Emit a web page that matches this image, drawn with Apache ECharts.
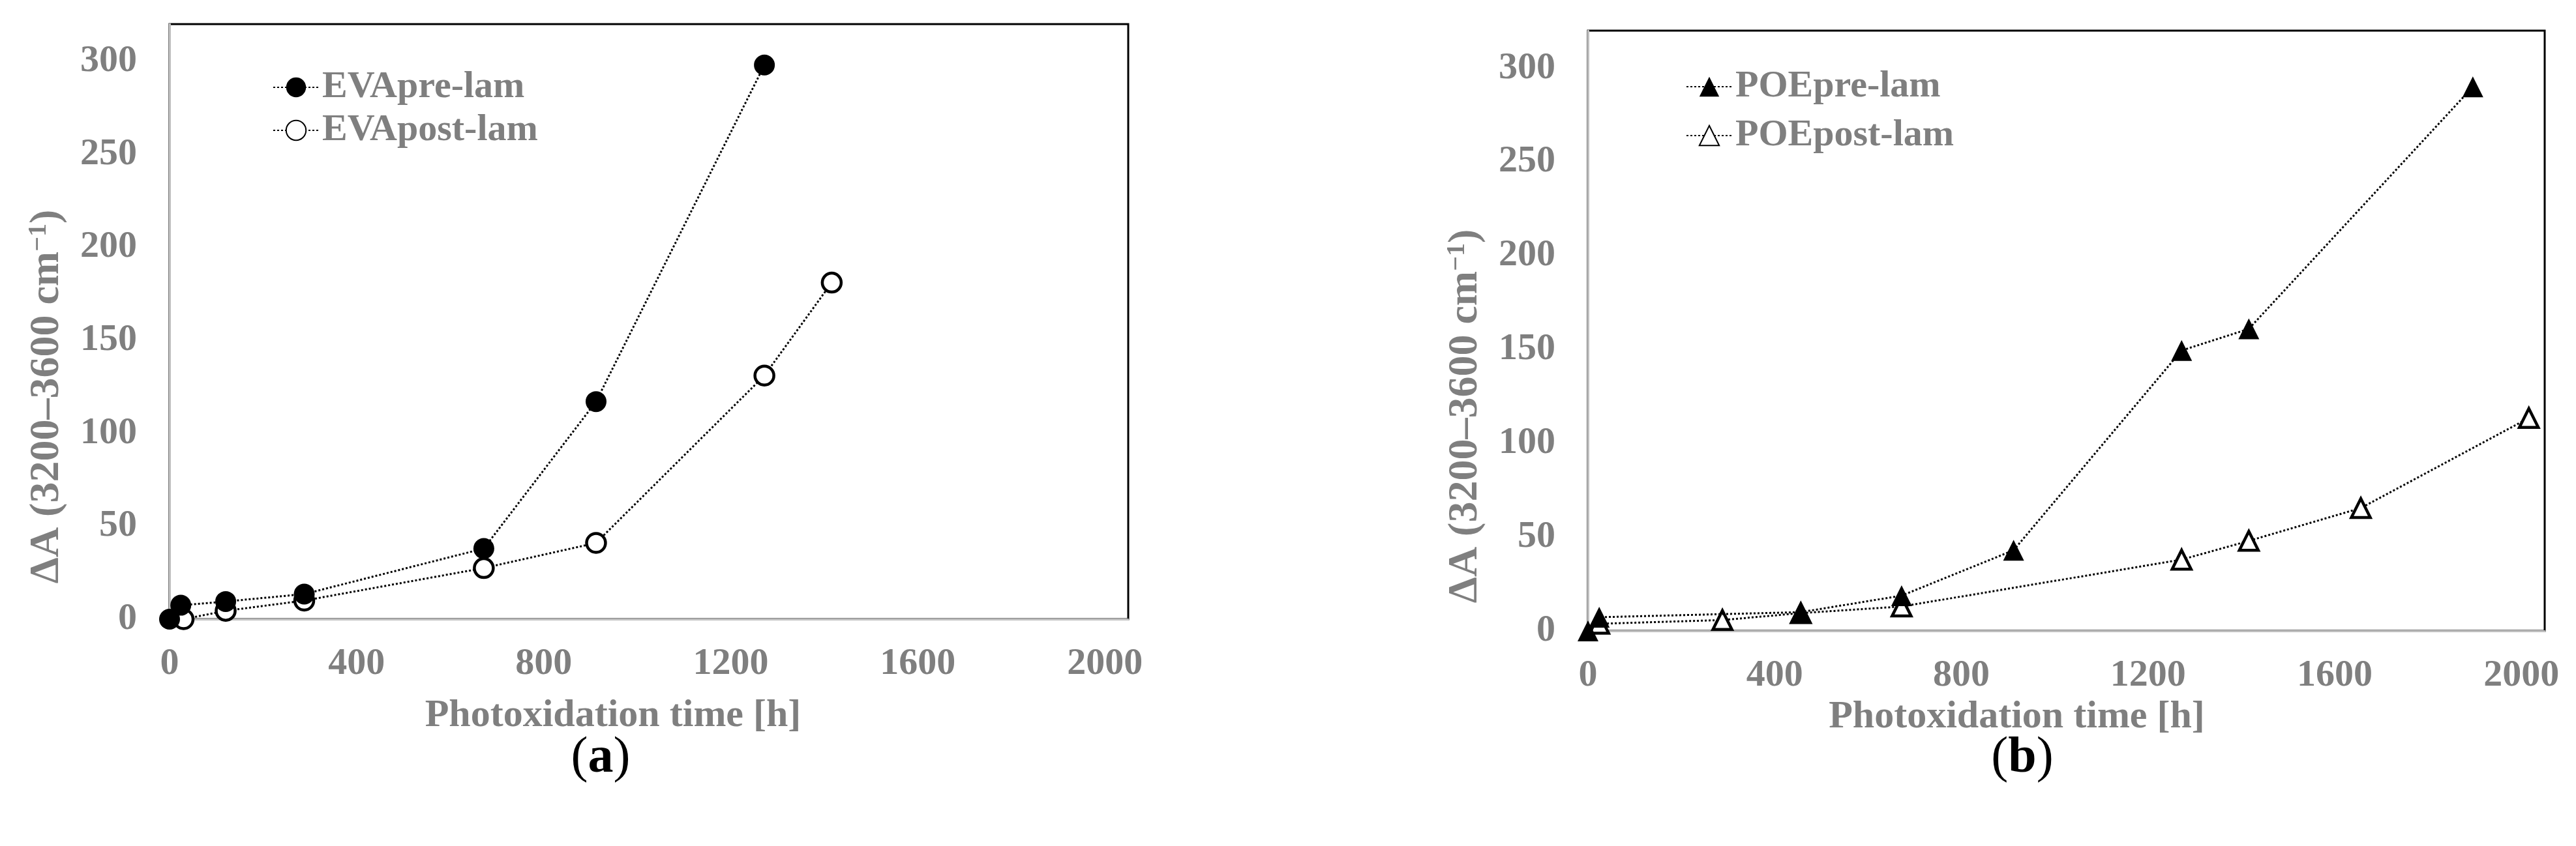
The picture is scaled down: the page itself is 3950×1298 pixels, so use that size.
<!DOCTYPE html>
<html>
<head>
<meta charset="utf-8">
<script src="https://cdn.jsdelivr.net/npm/echarts@6/dist/echarts.min.js"></script>
<style>
  html, body { margin: 0; padding: 0; background: #fff; }
  #chart { width: 3950px; height: 1298px; }
</style>
</head>
<body>
<div id="chart"></div>
<script>
// photoxidation time [h] and delta A values
const evaPreTime = [0, 24, 120, 288, 672, 912, 1272];
const evaPreVal = [0, 7.5, 9.5, 13.5, 38, 117, 298];
const evaPostTime = [30, 120, 288, 672, 912, 1272, 1416];
const evaPostVal = [0, 4.5, 10, 27.5, 41, 131, 181];

const poePreTime = [0, 24, 456, 672, 912, 1272, 1416, 1896];
const poePreVal = [0, 7.3, 10, 18.8, 43, 149.5, 161, 290];
const poePostTime = [24, 288, 456, 672, 1272, 1416, 1656, 2016];
const poePostVal = [3.8, 5.8, 9.5, 13, 38, 48, 65.5, 113.5];

const xTicks = [0, 400, 800, 1200, 1600, 2000];
const yTicks = [0, 50, 100, 150, 200, 250, 300];

const grey = "#7f7f7f";
const serif = "Liberation Serif";

function pairs(xs, ys) {
  return xs.map((x, i) => [x, ys[i]]);
}

function xAxisFor(gridIndex, gap, shift) {
  return {
    type: "value",
    gridIndex: gridIndex,
    min: 0,
    max: 2050,
    interval: 400,
    name: "Photoxidation time [h]",
    nameLocation: "middle",
    nameGap: gap,
    nameTextStyle: {
      color: grey,
      fontFamily: serif,
      fontWeight: "bold",
      fontSize: 60,
      padding: [0, shift, 0, 0]
    },
    axisLine: { show: true, lineStyle: { color: "#bfbfbf", width: 3 } },
    axisTick: { show: false },
    splitLine: { show: false },
    axisLabel: {
      margin: 40,
      color: grey,
      fontFamily: serif,
      fontWeight: "bold",
      fontSize: 58,
      showMaxLabel: false,
      formatter: v => (xTicks.indexOf(v) >= 0 ? String(v) : "")
    }
  };
}

function yAxisFor(gridIndex, shift) {
  return {
    type: "value",
    gridIndex: gridIndex,
    min: 0,
    max: 320,
    interval: 50,
    name: "ΔA (3200–3600 cm{sup|−1})",
    nameLocation: "middle",
    nameGap: 156,
    nameTextStyle: {
      color: grey,
      fontFamily: serif,
      fontWeight: "bold",
      fontSize: 64,
      padding: [0, shift, 0, 0],
      rich: {
        sup: {
          color: grey,
          fontFamily: serif,
          fontWeight: "bold",
          fontSize: 40,
          verticalAlign: "top"
        }
      }
    },
    axisLine: { show: true, lineStyle: { color: "#bfbfbf", width: 3 } },
    axisTick: { show: false },
    splitLine: { show: false },
    axisLabel: {
      margin: 50,
      color: grey,
      fontFamily: serif,
      fontWeight: "bold",
      fontSize: 58,
      showMaxLabel: false,
      formatter: v => (yTicks.indexOf(v) >= 0 ? String(v) : "")
    }
  };
}

function lineSeries(name, idx, data, symbol, filled) {
  return {
    name: name,
    type: "line",
    xAxisIndex: idx,
    yAxisIndex: idx,
    data: data,
    symbol: symbol,
    symbolSize: filled ? 32 : 29,
    showAllSymbol: true,
    lineStyle: { color: "#000", width: 3, type: [3, 3] },
    itemStyle: {
      color: filled ? "#000" : "#fff",
      borderColor: "#000",
      borderWidth: filled ? 0 : 4.5,
      opacity: 1
    },
    emphasis: { disabled: true },
    z: filled ? 4 : 3
  };
}

function legendFor(left, top, gap, names) {
  return {
    orient: "vertical",
    left: left,
    top: top,
    itemWidth: 70,
    itemHeight: 38,
    itemGap: gap,
    data: names,
    textStyle: {
      color: grey,
      fontFamily: serif,
      fontWeight: "bold",
      fontSize: 58
    }
  };
}

function caption(letter, x) {
  return {
    type: "text",
    x: x,
    y: 1164,
    style: {
      text: "{p|(}{b|" + letter + "}{p|)}",
      align: "center",
      verticalAlign: "middle",
      rich: {
        p: { fontFamily: serif, fontSize: 78, fill: "#000" },
        b: { fontFamily: serif, fontSize: 78, fontWeight: "bold", fill: "#000" }
      }
    }
  };
}

const chart = echarts.init(document.getElementById("chart"));
chart.setOption({
  backgroundColor: "#fff",
  animation: false,
  grid: [
    { left: 260, top: 37, width: 1470, height: 913, show: true, borderColor: "#000", borderWidth: 3, backgroundColor: "#fff" },
    { left: 2435, top: 47, width: 1467, height: 921, show: true, borderColor: "#000", borderWidth: 3, backgroundColor: "#fff" }
  ],
  xAxis: [xAxisFor(0, 118, 110), xAxisFor(1, 100, 152)],
  yAxis: [yAxisFor(0, 230), yAxisFor(1, 262)],
  legend: [
    legendFor(413, 100, 8, ["EVApre-lam", "EVApost-lam"]),
    legendFor(2580, 99, 17, ["POEpre-lam", "POEpost-lam"])
  ],
  series: [
    lineSeries("EVApost-lam", 0, pairs(evaPostTime, evaPostVal), "circle", false),
    lineSeries("EVApre-lam", 0, pairs(evaPreTime, evaPreVal), "circle", true),
    lineSeries("POEpost-lam", 1, pairs(poePostTime, poePostVal), "triangle", false),
    lineSeries("POEpre-lam", 1, pairs(poePreTime, poePreVal), "triangle", true)
  ],
  graphic: [caption("a", 921), caption("b", 3101)]
});
</script>
</body>
</html>
